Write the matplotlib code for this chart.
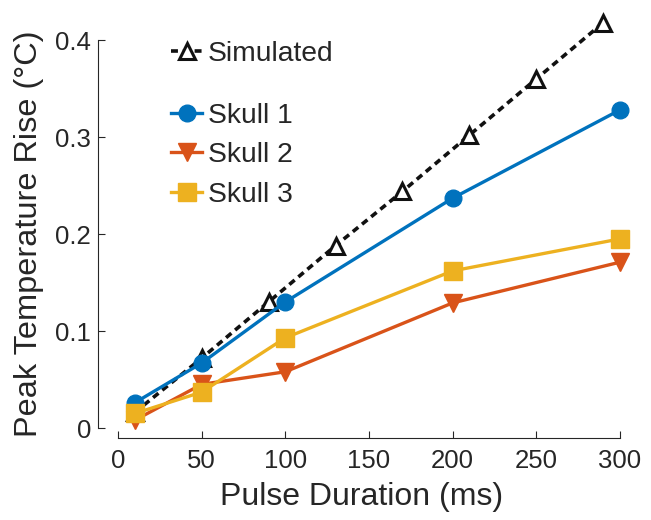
import matplotlib
matplotlib.use("Agg")
from matplotlib import pyplot as plt

plt.rcParams['font.family'] = ['Liberation Sans', 'DejaVu Sans']
plt.rcParams['lines.scale_dashes'] = False

# simulated peak temperature rise
sim_x = [10, 50, 90, 130, 170, 210, 250, 290]
sim_y = [0.016, 0.072, 0.130, 0.188, 0.244, 0.302, 0.360, 0.418]

# measured, three skulls
pulse = [10, 50, 100, 200, 300]
skull1 = [0.026, 0.067, 0.130, 0.237, 0.328]
skull2 = [0.008, 0.045, 0.058, 0.129, 0.171]
skull3 = [0.015, 0.037, 0.093, 0.162, 0.195]

xticks = [0, 50, 100, 150, 200, 250, 300]
yticks = [0, 0.1, 0.2, 0.3, 0.4]
yticklabels = ['0', '0.1', '0.2', '0.3', '0.4']

blue = '#0072BD'
orange = '#D95319'
yellow = '#EDB120'
dark = '#262626'

fig = plt.figure(figsize=(6.51, 5.2), dpi=100)
ax = fig.add_axes([118/651, 92/520, 502/651, 417/520])

lw = 2.4
h_sim, = ax.plot(sim_x, sim_y, color='#111111', lw=2.6, dashes=(5, 3.5),
                 marker='^', ms=12, mfc='white', mec='#111111', mew=2.2,
                 clip_on=False, label='Simulated')
h1, = ax.plot(pulse, skull1, color=blue, lw=lw, marker='o', ms=12,
              clip_on=False, label='Skull 1')
h2, = ax.plot(pulse, skull2, color=orange, lw=lw, marker='v', ms=13,
              clip_on=False, label='Skull 2')
h3, = ax.plot(pulse, skull3, color=yellow, lw=lw, marker='s', ms=12.5,
              clip_on=False, label='Skull 3')

ax.set_xlim(0, 300)
ax.set_ylim(0, 0.43)
ax.set_xticks(xticks)
ax.set_yticks(yticks)
ax.set_yticklabels(yticklabels)

for s in ['top', 'right']:
    ax.spines[s].set_visible(False)
ax.spines['left'].set_position(('outward', 14.4))
ax.spines['bottom'].set_position(('outward', 7.2))
ax.spines['left'].set_bounds(0, 0.4)
ax.spines['bottom'].set_bounds(0, 300)
for s in ['left', 'bottom']:
    ax.spines[s].set_color(dark)
    ax.spines[s].set_linewidth(0.8)
ax.tick_params(direction='in', length=5, width=0.8, colors=dark,
               labelsize=18.5, pad=5)
ax.tick_params(axis='x', pad=8)

ax.set_xlabel('Pulse Duration (ms)', fontsize=23, color=dark)
ax.set_ylabel('Peak Temperature Rise (°C)', fontsize=23.4, color=dark)
ax.xaxis.set_label_coords(0.486, -0.13)
ax.yaxis.set_label_coords(-0.147, 0.465)

leg_kw = dict(loc='upper left', frameon=False, bbox_transform=fig.transFigure,
              fontsize=20.3, handlelength=1.1, handletextpad=0.2,
              borderaxespad=0, borderpad=0)
leg1 = ax.legend(handles=[h_sim], bbox_to_anchor=(171/651, 1 - 41/520), **leg_kw)
for t in leg1.get_texts():
    t.set_color(dark)
ax.add_artist(leg1)
leg2 = ax.legend(handles=[h1, h2, h3], bbox_to_anchor=(171/651, 1 - 103/520),
                 labelspacing=0.47, **leg_kw)
for t in leg2.get_texts():
    t.set_color(dark)

fig.savefig('out.png', dpi=100)
